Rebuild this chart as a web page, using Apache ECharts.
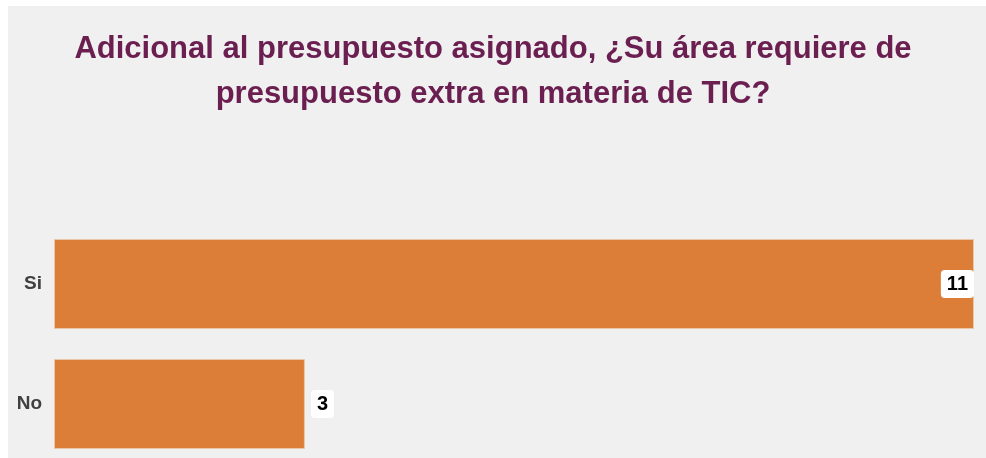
<!DOCTYPE html>
<html><head><meta charset="utf-8">
<script src="https://cdn.jsdelivr.net/npm/echarts@6/dist/echarts.min.js"></script>
<style>html,body{margin:0;padding:0;background:#fff}#c{width:986px;height:458px}</style>
</head><body><div id="c"></div>
<script>
const titleText = 'Adicional al presupuesto asignado, ¿Su área requiere de\npresupuesto extra en materia de TIC?';
const categories = ['Si', 'No'];
const values = [11, 3];
const FONT = '"Liberation Sans Narrow", "Arial Narrow", "Liberation Sans", Arial, sans-serif';
const chart = echarts.init(document.getElementById('c'));
chart.setOption({
  backgroundColor: '#ffffff',
  animation: false,
  graphic: [{ type: 'rect', z: -10, silent: true, shape: { x: 8, y: 6, width: 978, height: 452 }, style: { fill: '#f0f0f0' } }],
  title: {
    text: titleText, left: 'center', top: 22,
    textStyle: { fontFamily: FONT, fontWeight: 'bold', fontSize: 31, lineHeight: 45, color: '#6b1e50' }
  },
  grid: { left: 54, right: 12, top: 224, height: 240, containLabel: false, outerBoundsMode: 'none' },
  xAxis: { type: 'value', min: 0, max: 11, show: false },
  yAxis: {
    type: 'category', data: categories, inverse: true,
    axisLine: { show: false }, axisTick: { show: false },
    axisLabel: { margin: 12, fontFamily: FONT, fontWeight: 'bold', fontSize: 19, color: '#404040' }
  },
  series: [{
    type: 'bar', data: values.map((v, i) => ({
      value: v,
      label: i === 0 ? { position: 'insideRight', distance: 0 } : { position: 'right', distance: 6 }
    })),
    barWidth: 90,
    itemStyle: { color: '#dc7e37', borderColor: '#e9c7a8', borderWidth: 1 },
    label: {
      show: true, fontFamily: FONT, fontWeight: 'bold', fontSize: 20, color: '#000',
      backgroundColor: '#ffffff', borderRadius: 4, padding: [4, 6]
    }
  }]
});
</script></body></html>
